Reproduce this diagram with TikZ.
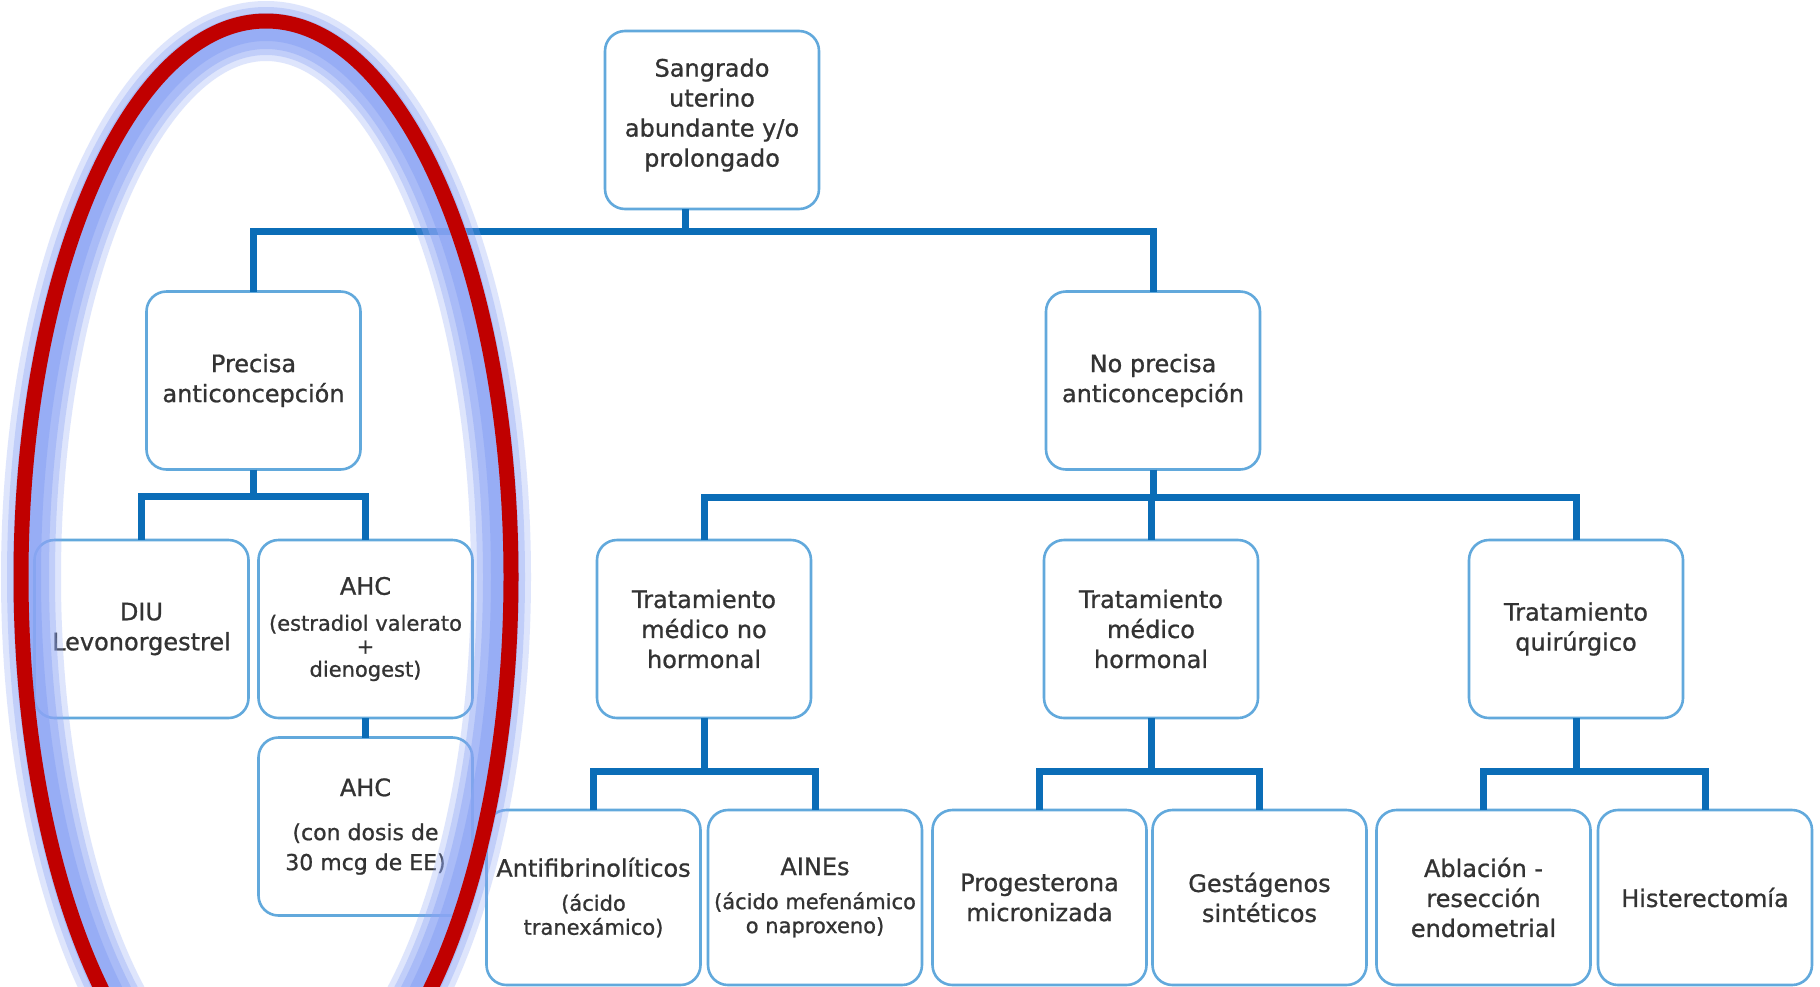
\documentclass[tikz,border=0pt]{standalone}
\usepackage{fontspec}
\setmainfont{DejaVu Sans}
\newfontfamily\medfam{DejaVu Sans}[FakeBold=0.9]
\definecolor{boxblue}{HTML}{62A9DC}
\definecolor{lineblue}{HTML}{0B6DB7}
\definecolor{txt}{HTML}{333333}
\definecolor{redc}{HTML}{C00000}
\definecolor{glowc}{HTML}{8CA5F5}
\newcommand\mainf{\medfam\fontsize{12}{15}\selectfont}
\newcommand\smallf{\fontsize{10.5}{11.5}\selectfont}
\newcommand\midf{\fontsize{11}{15}\selectfont}
\tikzset{
  box/.style={draw=boxblue, line width=1.3pt, rounded corners=10pt, fill=white,
    minimum width=107pt, minimum height=89pt, inner sep=0pt, outer sep=0pt,
    align=center, text=txt, font=\mainf},
  lowbox/.style={box, minimum height=87.5pt},
  conn/.style={draw=lineblue, line width=3.5pt},
  glow/.style={draw=glowc, line width=#1},
}
\begin{document}
\begin{tikzpicture}[x=0.5pt,y=-0.5pt]
\useasboundingbox (0,0) rectangle (1820,986);
\clip (0,0) rectangle (1820,986);
\fill[white] (0,0) rectangle (1820,986);
% nodes
\node[box] (root) at (712,120) {Sangrado\\uterino\\abundante y/o\\prolongado\\[-12pt]\strut};
\node[box] (prec) at (253.5,380.5) {Precisa\\anticoncepción};
\node[box] (noprec) at (1153,380.5) {No precisa\\anticoncepción};
\node[box] (diu) at (141.5,629) {DIU\\Levonorgestrel};
\node[box] (ahc1) at (365.5,629) {AHC\\[3pt]{\smallf (estradiol valerato}\\[-3.5pt]{\smallf +}\\[-3.5pt]{\smallf dienogest)}};
\node[box] (ahc2) at (365.5,826.5) {AHC\\[7pt]{\midf (con dosis de}\\{\midf 30 mcg de EE)}};
\node[box] (tmnh) at (704,629) {Tratamiento\\médico no\\hormonal};
\node[box] (tmh) at (1151,629) {Tratamiento\\médico\\hormonal};
\node[box] (tq) at (1576,629) {Tratamiento\\quirúrgico};
\node[lowbox] (anti) at (593.5,897.5) {Antifibrinolíticos\\[2pt]{\smallf (ácido}\\[-3pt]{\smallf tranexámico)}};
\node[lowbox] (aines) at (815,897.5) {AINEs\\[2pt]{\smallf (ácido mefenámico}\\[-3pt]{\smallf o naproxeno)}};
\node[lowbox] (prog) at (1039.5,897.5) {Progesterona\\micronizada};
\node[lowbox] (gest) at (1259.5,897.5) {Gestágenos\\sintéticos};
\node[lowbox] (abl) at (1483.5,897.5) {Ablación -\\resección\\endometrial};
\node[lowbox] (hist) at (1705,897.5) {Histerectomía};
% connectors
\coordinate (b1) at (685,231);
\draw[conn] (root.south -| b1) -- (b1);
\draw[conn] (prec.north) |- (b1) -| (noprec.north);
\path (prec.south) ++(0,27) coordinate (b2);
\draw[conn] (prec.south) -- (b2);
\draw[conn] (diu.north) |- (b2) -| (ahc1.north);
\draw[conn] (ahc1.south) -- (ahc2.north);
\path (noprec.south) ++(0,28) coordinate (b3);
\draw[conn] (noprec.south) -- (b3);
\draw[conn] (tmnh.north) |- (b3) -| (tq.north);
\draw[conn] (tmh.north) -- (tmh.north |- b3);
\path (tmnh.south) ++(0,53) coordinate (b4);
\draw[conn] (tmnh.south) -- (b4);
\draw[conn] (anti.north) |- (b4) -| (aines.north);
\path (tmh.south) ++(0,53) coordinate (b5);
\draw[conn] (tmh.south) -- (b5);
\draw[conn] (prog.north) |- (b5) -| (gest.north);
\path (tq.south) ++(0,53) coordinate (b6);
\draw[conn] (tq.south) -- (b6);
\draw[conn] (abl.north) |- (b6) -| (hist.north);
% highlight ellipse
\begin{scope}[opacity=0.28]
\draw[glow=30pt] (266,577) ellipse [x radius=117.5pt, y radius=273pt];
\end{scope}
\begin{scope}[opacity=0.35]
\draw[glow=24pt] (266,577) ellipse [x radius=117.5pt, y radius=273pt];
\end{scope}
\begin{scope}[opacity=0.45]
\draw[glow=18pt] (266,577) ellipse [x radius=117.5pt, y radius=273pt];
\end{scope}
\begin{scope}[opacity=0.6]
\draw[glow=12pt] (266,577) ellipse [x radius=118.5pt, y radius=274pt];
\end{scope}
\draw[draw=redc, line width=7.5pt] (266,577) ellipse [x radius=122.5pt, y radius=278pt];
\end{tikzpicture}
\end{document}
